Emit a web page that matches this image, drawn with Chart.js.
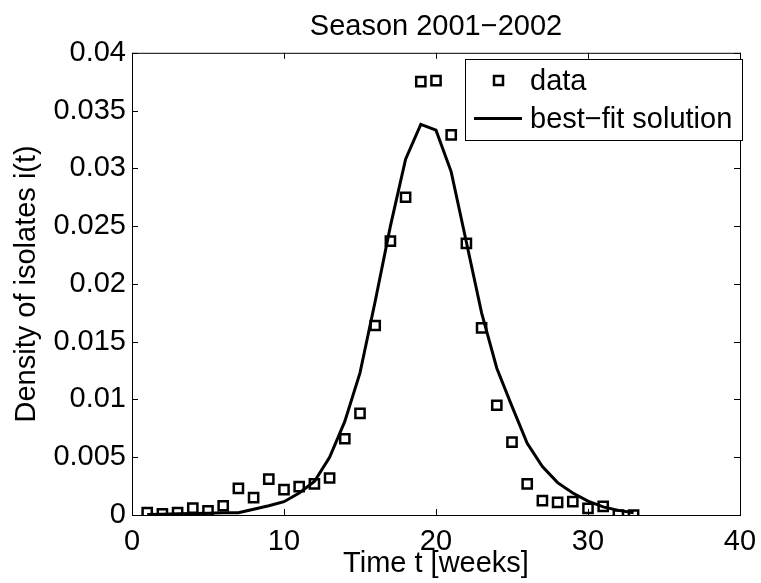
<!DOCTYPE html>
<html lang="en">
<head>
    <title>Season 2001-2002</title>
    <meta charset="utf-8">
    <script src="https://cdn.jsdelivr.net/npm/chart.js@4.4.0/dist/chart.umd.min.js"></script>
    <style>
        body { margin: 0; background: #fff; }
        canvas { display: block; }
    </style>
</head>
<body>
<canvas id="season-chart" width="761" height="583"></canvas>
<script>
// weekly isolates (squares)
const weeks = [1, 2, 3, 4, 5, 6, 7, 8, 9, 10, 11, 12, 13, 14, 15, 16, 17,
    18, 19, 20, 21, 22, 23, 24, 25, 26, 27, 28, 29, 30, 31, 32, 33];
const isolates = [0.0002, 0.0001, 0.0002, 0.0006, 0.00035, 0.0008, 0.0023, 0.0015, 0.0031,
    0.0022, 0.00245, 0.0027, 0.0032, 0.0066, 0.0088, 0.0164, 0.0237, 0.0275, 0.0375,
    0.0376, 0.0329, 0.0235, 0.0162, 0.0095, 0.0063, 0.0027, 0.00124, 0.0011, 0.00115,
    0.00058, 0.00075, 0, 0];
// best-fit curve
const fitWeeks = weeks;
const fitValues = [0.00005, 0.00007, 0.0001, 0.00012, 0.00015, 0.0002, 0.0002, 0.0005, 0.0008,
    0.00115, 0.0019, 0.0029, 0.005, 0.0081, 0.0123, 0.0185, 0.025, 0.0308, 0.0338,
    0.0333, 0.0297, 0.0236, 0.0175, 0.0127, 0.0094, 0.0062, 0.0042, 0.0028, 0.0019,
    0.0012, 0.0007, 0.0004, 0.0002];
const xTicks = [0, 10, 20, 30, 40];
const yTicks = [0, 0.005, 0.01, 0.015, 0.02, 0.025, 0.03, 0.035, 0.04];

const FONT = "'Liberation Sans', Arial, Helvetica, sans-serif";
const FSIZE = 29;

function points(xs, ys) {
    return xs.map((x, i) => ({x: x, y: ys[i]}));
}

// matlab style box, inward ticks and legend
const framePlugin = {
    id: 'frame',
    afterDraw(chart) {
        const ctx = chart.ctx;
        const a = chart.chartArea;
        const sx = chart.scales.x, sy = chart.scales.y;
        ctx.save();
        ctx.strokeStyle = '#000';
        ctx.lineWidth = 1;
        ctx.strokeRect(a.left + 0.5, a.top + 0.5, a.right - a.left, a.bottom - a.top);
        ctx.beginPath();
        xTicks.forEach(v => {
            const px = Math.round(sx.getPixelForValue(v)) + 0.5;
            ctx.moveTo(px, a.bottom); ctx.lineTo(px, a.bottom - 6);
            ctx.moveTo(px, a.top); ctx.lineTo(px, a.top + 6);
        });
        yTicks.forEach(v => {
            const py = Math.round(sy.getPixelForValue(v)) + 0.5;
            ctx.moveTo(a.left, py); ctx.lineTo(a.left + 6, py);
            ctx.moveTo(a.right, py); ctx.lineTo(a.right - 6, py);
        });
        ctx.stroke();

        // legend box
        const lx = 465, ly = 59, lw = 277, lh = 81;
        ctx.fillStyle = '#fff';
        ctx.fillRect(lx, ly, lw, lh);
        ctx.strokeRect(lx + 0.5, ly + 0.5, lw, lh);
        ctx.lineWidth = 2.5;
        ctx.strokeRect(494, 76, 9, 9);
        ctx.lineWidth = 3;
        ctx.beginPath();
        ctx.moveTo(474, 118.5); ctx.lineTo(522, 118.5);
        ctx.stroke();
        ctx.fillStyle = '#000';
        ctx.font = FSIZE + 'px ' + FONT;
        ctx.textBaseline = 'middle';
        ctx.fillText(chart.data.datasets[0].label, 530, 82);
        ctx.fillText(chart.data.datasets[1].label, 530, 120);
        ctx.restore();
    }
};

new Chart("season-chart", {
    type: "scatter",
    data: {
        datasets: [
            {
                label: "data",
                data: points(weeks, isolates),
                pointStyle: 'rect',
                pointRadius: 6.5,
                pointBorderWidth: 2.5,
                borderColor: '#000',
                backgroundColor: 'rgba(0,0,0,0)',
                showLine: false
            },
            {
                label: "best\u2212fit solution",
                data: points(fitWeeks, fitValues),
                showLine: true,
                borderColor: '#000',
                borderWidth: 3,
                pointRadius: 0,
                tension: 0
            }
        ]
    },
    options: {
        responsive: false,
        animation: false,
        layout: { padding: { left: 0, right: 21, top: 0, bottom: 0 } },
        plugins: {
            legend: { display: false },
            tooltip: { enabled: false },
            title: {
                display: true,
                fullSize: false,
                text: "Season 2001\u22122002",
                color: '#000',
                font: { family: FONT, size: FSIZE, weight: 'normal' },
                padding: { top: 10, bottom: 8 }
            }
        },
        scales: {
            x: {
                type: 'linear',
                min: 0,
                max: 40,
                afterBuildTicks: s => { s.ticks = xTicks.map(v => ({value: v})); },
                afterFit: s => { s.height = 68; s.paddingLeft = 0; s.paddingRight = 0; },
                ticks: { color: '#000', font: { family: FONT, size: FSIZE }, padding: 10, maxRotation: 0 },
                grid: { display: false, drawTicks: false },
                border: { display: false },
                title: {
                    display: true,
                    text: "Time t [weeks]",
                    color: '#000',
                    font: { family: FONT, size: FSIZE },
                    padding: { top: 0, bottom: 2 }
                }
            },
            y: {
                type: 'linear',
                min: 0,
                max: 0.04,
                afterBuildTicks: s => { s.ticks = yTicks.map(v => ({value: v})); },
                afterFit: s => { s.width = 132; s.paddingTop = 0; s.paddingBottom = 0; },
                ticks: {
                    color: '#000',
                    font: { family: FONT, size: FSIZE },
                    padding: 6,
                    callback: v => String(+v.toFixed(3))
                },
                grid: { display: false, drawTicks: false },
                border: { display: false },
                title: {
                    display: true,
                    text: "Density of isolates i(t)",
                    color: '#000',
                    font: { family: FONT, size: FSIZE },
                    padding: { top: 10, bottom: 0 }
                }
            }
        }
    },
    plugins: [framePlugin]
});
</script>
</body>
</html>
